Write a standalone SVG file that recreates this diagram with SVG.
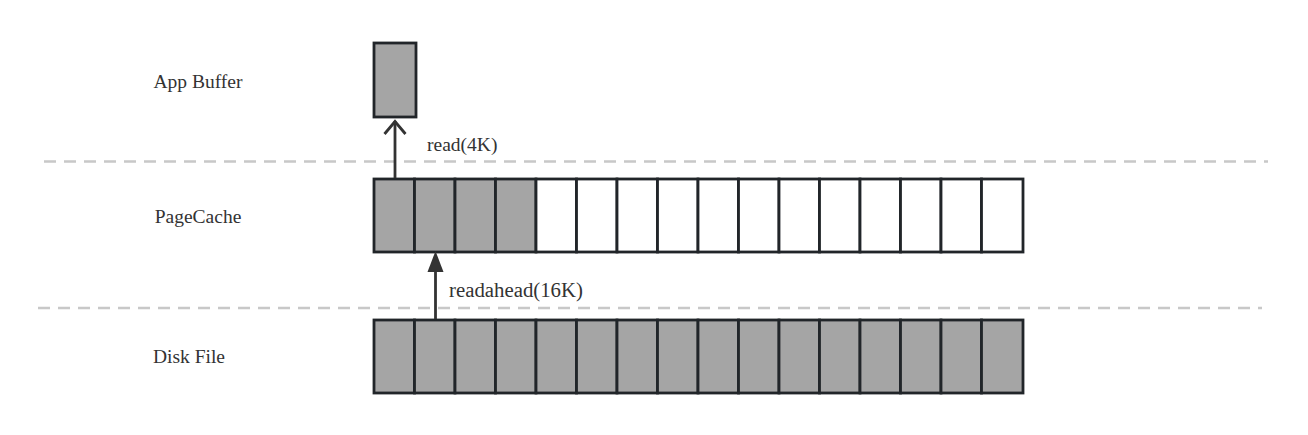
<svg xmlns="http://www.w3.org/2000/svg" width="1308" height="435" viewBox="0 0 1308 435">
<style>
.lbl{font-family:"Liberation Serif",serif;font-size:19.5px;fill:#333}
.sep{stroke:#c8c8c8;stroke-width:2.5;stroke-dasharray:12 8;fill:none}
.full{fill:#a5a5a5;stroke:#212529;stroke-width:2.8}
.empty{fill:#fff;stroke:#212529;stroke-width:2.8}
.conn{stroke:#333;stroke-width:2.8;fill:none}
</style>
<rect width="1308" height="435" fill="#fff"/>
<g id="separators">
<line class="sep" x1="44" y1="161.5" x2="1268" y2="161.5"/>
<line class="sep" x1="38" y1="308" x2="1262" y2="308"/>
</g>
<g id="labels">
<text class="lbl" x="198" y="88" text-anchor="middle">App Buffer</text>
<text class="lbl" x="198" y="223" text-anchor="middle">PageCache</text>
<text class="lbl" x="189" y="363" text-anchor="middle">Disk File</text>
</g>
<g id="appbuffer">
<rect class="full" x="374" y="43" width="42" height="74"/>
</g>
<g id="pagecache">
<rect class="full" x="374" y="179" width="40.5" height="73"/>
<rect class="full" x="414.5" y="179" width="40.5" height="73"/>
<rect class="full" x="455" y="179" width="40.5" height="73"/>
<rect class="full" x="495.5" y="179" width="40.5" height="73"/>
<rect class="empty" x="536" y="179" width="40.5" height="73"/>
<rect class="empty" x="576.5" y="179" width="40.5" height="73"/>
<rect class="empty" x="617" y="179" width="40.5" height="73"/>
<rect class="empty" x="657.5" y="179" width="40.5" height="73"/>
<rect class="empty" x="698" y="179" width="40.5" height="73"/>
<rect class="empty" x="738.5" y="179" width="40.5" height="73"/>
<rect class="empty" x="779" y="179" width="40.5" height="73"/>
<rect class="empty" x="819.5" y="179" width="40.5" height="73"/>
<rect class="empty" x="860" y="179" width="40.5" height="73"/>
<rect class="empty" x="900.5" y="179" width="40.5" height="73"/>
<rect class="empty" x="941" y="179" width="40.5" height="73"/>
<rect class="empty" x="981.5" y="179" width="41.5" height="73"/>
</g>
<g id="diskfile">
<rect class="full" x="374" y="320" width="40.5" height="73"/>
<rect class="full" x="414.5" y="320" width="40.5" height="73"/>
<rect class="full" x="455" y="320" width="40.5" height="73"/>
<rect class="full" x="495.5" y="320" width="40.5" height="73"/>
<rect class="full" x="536" y="320" width="40.5" height="73"/>
<rect class="full" x="576.5" y="320" width="40.5" height="73"/>
<rect class="full" x="617" y="320" width="40.5" height="73"/>
<rect class="full" x="657.5" y="320" width="40.5" height="73"/>
<rect class="full" x="698" y="320" width="40.5" height="73"/>
<rect class="full" x="738.5" y="320" width="40.5" height="73"/>
<rect class="full" x="779" y="320" width="40.5" height="73"/>
<rect class="full" x="819.5" y="320" width="40.5" height="73"/>
<rect class="full" x="860" y="320" width="40.5" height="73"/>
<rect class="full" x="900.5" y="320" width="40.5" height="73"/>
<rect class="full" x="941" y="320" width="40.5" height="73"/>
<rect class="full" x="981.5" y="320" width="41.5" height="73"/>
</g>
<g id="connectors">
<line class="conn" x1="395" y1="178" x2="395" y2="121"/>
<polyline class="conn" points="384.5,134 395,121.5 405.5,134"/>
<text class="lbl" x="427" y="151">read(4K)</text>
<line class="conn" x1="435.5" y1="319" x2="435.5" y2="268"/>
<polygon points="435.5,251 443.5,272 427.5,272" fill="#333"/>
<text class="lbl" x="449" y="297" style="font-size:20.8px">readahead(16K)</text>
</g>
</svg>
